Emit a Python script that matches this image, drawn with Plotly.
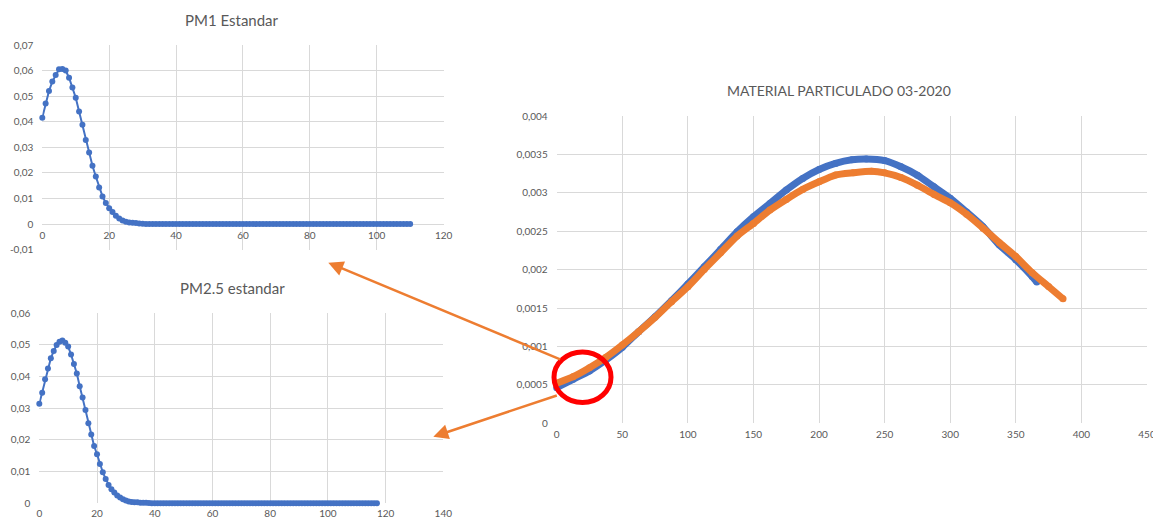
import plotly.graph_objects as go

# page body has an 8px default margin, figure is sized to fit the remaining window
PAGE_W, PAGE_H, BODY_M = 1161, 521, 8
W, H = PAGE_W - BODY_M, PAGE_H - BODY_M

# ---------------- data ----------------
pm1_values = [0.0416, 0.0471, 0.0520, 0.0557, 0.0583, 0.0605, 0.0606, 0.0600, 0.0572, 0.0534,
              0.0494, 0.0440, 0.0388, 0.0329, 0.0280, 0.0228, 0.0186, 0.0143, 0.0108, 0.0082,
              0.0062, 0.0047, 0.0032, 0.0022, 0.0014, 0.0009, 0.0006, 0.0005, 0.0004, 0.0002,
              0.0001, 0.0, 0.0, 0.0, 0.0, 0.0, 0.0, 0.0, 0.0, 0.0,
              0.0, 0.0, 0.0, 0.0, 0.0, 0.0, 0.0, 0.0, 0.0, 0.0,
              0.0, 0.0, 0.0, 0.0, 0.0, 0.0, 0.0, 0.0, 0.0, 0.0,
              0.0, 0.0, 0.0, 0.0, 0.0, 0.0, 0.0, 0.0, 0.0, 0.0,
              0.0, 0.0, 0.0, 0.0, 0.0, 0.0, 0.0, 0.0, 0.0, 0.0,
              0.0, 0.0, 0.0, 0.0, 0.0, 0.0, 0.0, 0.0, 0.0, 0.0,
              0.0, 0.0, 0.0, 0.0, 0.0, 0.0, 0.0, 0.0, 0.0, 0.0,
              0.0, 0.0, 0.0, 0.0, 0.0, 0.0, 0.0, 0.0, 0.0, 0.0,
              0.0]
pm1_x = list(range(len(pm1_values)))

pm25_values = [0.0314, 0.0349, 0.0392, 0.0426, 0.0458, 0.0481, 0.0500, 0.0510, 0.0514, 0.0507,
               0.0495, 0.0470, 0.0440, 0.0410, 0.0370, 0.0334, 0.0295, 0.0253, 0.0217, 0.0181,
               0.0155, 0.0124, 0.0098, 0.0077, 0.0058, 0.0044, 0.0034, 0.0025, 0.0018, 0.0013,
               0.0009, 0.0006, 0.0004, 0.0003, 0.0003, 0.0002, 0.0002, 0.0002, 0.0001, 0.0,
               0.0, 0.0, 0.0, 0.0, 0.0, 0.0, 0.0, 0.0, 0.0, 0.0,
               0.0, 0.0, 0.0, 0.0, 0.0, 0.0, 0.0, 0.0, 0.0, 0.0,
               0.0, 0.0, 0.0, 0.0, 0.0, 0.0, 0.0, 0.0, 0.0, 0.0,
               0.0, 0.0, 0.0, 0.0, 0.0, 0.0, 0.0, 0.0, 0.0, 0.0,
               0.0, 0.0, 0.0, 0.0, 0.0, 0.0, 0.0, 0.0, 0.0, 0.0,
               0.0, 0.0, 0.0, 0.0, 0.0, 0.0, 0.0, 0.0, 0.0, 0.0,
               0.0, 0.0, 0.0, 0.0, 0.0, 0.0, 0.0, 0.0, 0.0, 0.0,
               0.0, 0.0, 0.0, 0.0, 0.0, 0.0, 0.0, 0.0]
pm25_x = list(range(len(pm25_values)))

mp_blue_x = [0, 12.5, 25, 37.5, 50, 62.5, 75, 87.5, 100, 112.5, 125, 137.5, 150, 162.5, 175,
             187.5, 200, 212.5, 225, 236, 250, 262.5, 275, 287.5, 300, 312.5, 325, 337.5, 350,
             362.5, 366]
mp_blue_y = [0.000464, 0.000572, 0.000681, 0.000824, 0.000989, 0.001193, 0.001388, 0.001596,
             0.001813, 0.002038, 0.002264, 0.002493, 0.002689, 0.002862, 0.003036, 0.003187,
             0.003304, 0.003383, 0.00343, 0.00344, 0.00342, 0.00334, 0.00323, 0.00308, 0.00293,
             0.00275, 0.00256, 0.00232, 0.00213, 0.00191, 0.00184]

mp_orange_x = [0, 12.5, 25, 37.5, 50, 62.5, 75, 87.5, 100, 112.5, 125, 137.5, 150, 162.5, 175,
               187.5, 200, 212.5, 226, 240, 250, 262.5, 275, 287.5, 300, 312.5, 325, 337.5, 350,
               362.5, 375, 386]
mp_orange_y = [0.00052, 0.000607, 0.000724, 0.000859, 0.001019, 0.001193, 0.001379, 0.001583,
               0.001778, 0.002003, 0.00222, 0.002437, 0.002602, 0.002775, 0.002914, 0.003044,
               0.003144, 0.003231, 0.00326, 0.00328, 0.00326, 0.0032, 0.0031, 0.00298, 0.00287,
               0.00272, 0.00254, 0.00235, 0.00217, 0.00196, 0.00178, 0.00162]

# tick labels
pm1_yticks = [-0.01, 0, 0.01, 0.02, 0.03, 0.04, 0.05, 0.06, 0.07]
pm1_ylabels = ["-0,01", "0", "0,01", "0,02", "0,03", "0,04", "0,05", "0,06", "0,07"]
pm1_xticks = [0, 20, 40, 60, 80, 100, 120]

pm25_yticks = [0, 0.01, 0.02, 0.03, 0.04, 0.05, 0.06]
pm25_ylabels = ["0", "0,01", "0,02", "0,03", "0,04", "0,05", "0,06"]
pm25_xticks = [0, 20, 40, 60, 80, 100, 120, 140]

mp_yticks = [0, 0.0005, 0.001, 0.0015, 0.002, 0.0025, 0.003, 0.0035, 0.004]
mp_ylabels = ["0", "0,0005", "0,001", "0,0015", "0,002", "0,0025", "0,003", "0,0035", "0,004"]
mp_xticks = [0, 50, 100, 150, 200, 250, 300, 350, 400, 450]

titles = ["PM1 Estandar", "PM2.5 estandar", "MATERIAL PARTICULADO 03-2020"]

# ---------------- styling ----------------
BLUE = "#4472C4"
ORANGE = "#ED7D31"
GRID = "#D9D9D9"
TXT = "#595959"
FONT = "Lato"


def px_x(p):
    return (p - BODY_M) / W


def px_y(p):
    return 1 - (p - BODY_M) / H


fig = go.Figure()

fig.add_trace(go.Scatter(x=pm1_x, y=pm1_values, mode="lines+markers",
                         line=dict(color=BLUE, width=2), marker=dict(color=BLUE, size=6),
                         cliponaxis=False, xaxis="x", yaxis="y", showlegend=False))
fig.add_trace(go.Scatter(x=pm25_x, y=pm25_values, mode="lines+markers",
                         line=dict(color=BLUE, width=2), marker=dict(color=BLUE, size=6),
                         cliponaxis=False, xaxis="x2", yaxis="y2", showlegend=False))
fig.add_trace(go.Scatter(x=mp_blue_x, y=mp_blue_y, mode="lines+markers",
                         line=dict(color=BLUE, width=7, shape="spline", smoothing=0.6),
                         marker=dict(color=BLUE, size=7), cliponaxis=False,
                         xaxis="x3", yaxis="y3", showlegend=False))
fig.add_trace(go.Scatter(x=mp_orange_x, y=mp_orange_y, mode="lines+markers",
                         line=dict(color=ORANGE, width=7, shape="spline", smoothing=0.6),
                         marker=dict(color=ORANGE, size=7), cliponaxis=False,
                         xaxis="x3", yaxis="y3", showlegend=False))

tickfont = dict(family=FONT, size=10, color=TXT)
common_x = dict(showgrid=True, gridcolor=GRID, gridwidth=1, zeroline=False, showline=False,
                ticks="", tickfont=tickfont, tickmode="array", ticklabelstandoff=4,
                automargin=False)
common_y = dict(showgrid=True, gridcolor=GRID, gridwidth=1, zeroline=False, showline=False,
                ticks="", tickfont=tickfont, tickmode="array", ticklabelstandoff=8,
                automargin=False)

fig.update_layout(
    width=W, height=H,
    margin=dict(l=0, r=0, t=0, b=0),
    paper_bgcolor="white", plot_bgcolor="white",
    font=dict(family=FONT, color=TXT),
    xaxis=dict(common_x, domain=[px_x(42.3), px_x(443.6)], range=[0, 120],
               tickvals=pm1_xticks, anchor="free", position=px_y(224)),
    yaxis=dict(common_y, domain=[px_y(249.6), px_y(45)], range=[-0.01, 0.07],
               tickvals=pm1_yticks, ticktext=pm1_ylabels, anchor="x"),
    xaxis2=dict(common_x, domain=[px_x(39.3), px_x(443.3)], range=[0, 140],
                tickvals=pm25_xticks, anchor="y2", ticklabelstandoff=3),
    yaxis2=dict(common_y, domain=[px_y(503.3), px_y(313.3)], range=[0, 0.06],
                tickvals=pm25_yticks, ticktext=pm25_ylabels, anchor="x2"),
    xaxis3=dict(common_x, domain=[px_x(556.7), px_x(1147)], range=[0, 450],
                tickvals=mp_xticks, anchor="y3"),
    yaxis3=dict(common_y, domain=[px_y(423.3), px_y(116)], range=[0, 0.004],
                tickvals=mp_yticks, ticktext=mp_ylabels, anchor="x3"),
)

title_pos = [(232, 20, 15), (232, 288, 15), (839, 90, 14)]
for t, (cx, cy, sz) in zip(titles, title_pos):
    fig.add_annotation(text=t, x=px_x(cx), y=px_y(cy), xref="paper", yref="paper",
                       showarrow=False, xanchor="center", yanchor="middle",
                       font=dict(family=FONT, size=sz, color=TXT))

# arrows (head, tail in pixels)
arrows = [((328.3, 262.7), (561.7, 360.0)), ((433.3, 436.7), (558.3, 395.0))]
for (hx, hy), (tx, ty) in arrows:
    fig.add_annotation(text="", x=px_x(hx), y=px_y(hy), xref="paper", yref="paper",
                       showarrow=True, axref="pixel", ayref="pixel",
                       ax=tx - hx, ay=ty - hy, arrowhead=2, arrowsize=1.2,
                       arrowwidth=2.5, arrowcolor=ORANGE, standoff=0, startstandoff=0)

# red circle highlight
fig.add_shape(type="circle", xref="paper", yref="paper",
              x0=px_x(554), x1=px_x(611), y0=px_y(402.5), y1=px_y(352),
              line=dict(color="#FF0000", width=5))

fig.write_html("out.html")
